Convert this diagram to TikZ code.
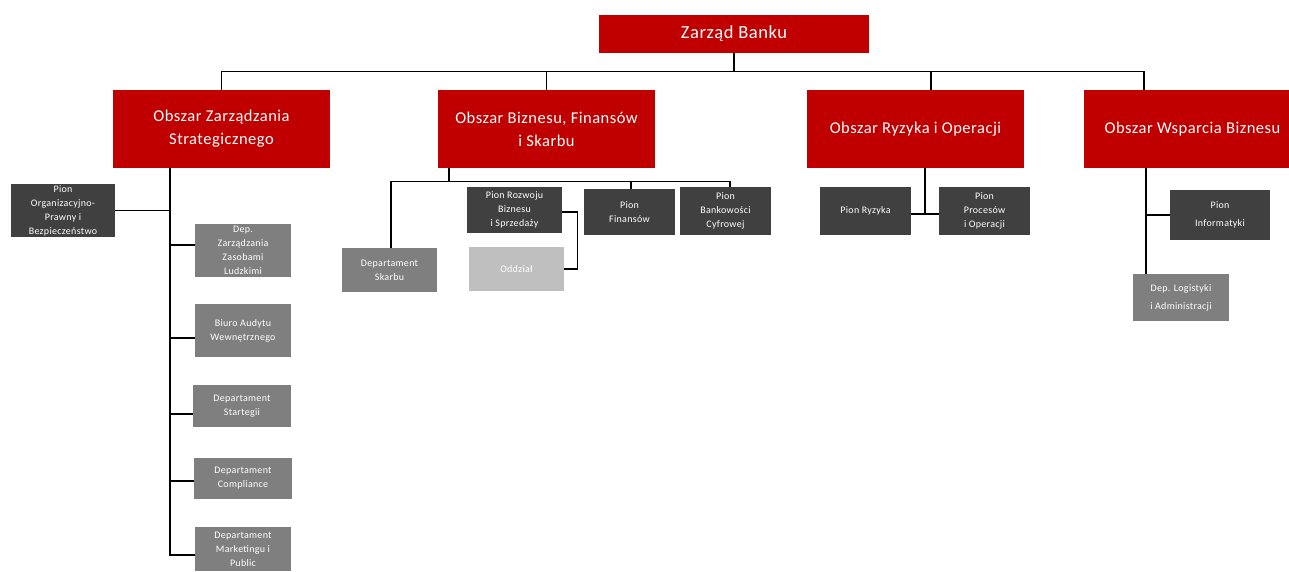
\documentclass[tikz,border=0pt]{standalone}
\usepackage{fontspec}
\setmainfont{Carlito}[LetterSpace=3]
\definecolor{cRed}{HTML}{C00000}
\definecolor{cDark}{HTML}{404040}
\definecolor{cMid}{HTML}{7F7F7F}
\definecolor{cLight}{HTML}{BFBFBF}
\tikzset{
  box/.style={inner sep=0pt, align=center, text=white, anchor=center},
  topbox/.style={box, fill=cRed, font=\fontsize{18.5}{22}\selectfont},
  areabox/.style={box, fill=cRed, minimum width=217pt, minimum height=78pt, font=\fontsize{16.5}{23}\selectfont},
  darkbox/.style={box, fill=cDark, font=\fontsize{10}{14}\selectfont},
  midbox/.style={box, fill=cMid, font=\fontsize{10}{14}\selectfont},
  lightbox/.style={box, fill=cLight, font=\fontsize{10}{14}\selectfont},
  wide/.style={font=\fontsize{10}{18}\selectfont},
  link/.style={draw=black, line width=1.2pt}
}
\begin{document}
\begin{tikzpicture}[x=1pt, y=-1pt]
\clip (0,0) rectangle (1289,571);
\fill[white] (0,0) rectangle (1289,571);

% top and areas
\node[topbox, minimum width=270pt, minimum height=38pt] (ZB) at (734,34) {Zarząd Banku};
\node[areabox] (OZS) at (221.5,129) {Obszar Zarządzania\\Strategicznego};
\node[areabox] (OBF) at (546.5,129) {Obszar Biznesu, Finansów\\i Skarbu};
\node[areabox] (ORO) at (915.5,129) {Obszar Ryzyka i Operacji};
\node[areabox] (OWB) at (1192.5,129) {Obszar Wsparcia Biznesu};

% left subtree
\node[darkbox, minimum width=104pt, minimum height=53pt] (POP) at (63,210.5) {Pion\\Organizacyjno-\\Prawny i\\Bezpieczeństwo};
\node[midbox, minimum width=96pt, minimum height=53pt] (DZL) at (243,250.5) {Dep.\\Zarządzania\\Zasobami\\Ludzkimi};
\node[midbox, minimum width=96pt, minimum height=53pt] (BAW) at (243,330.5) {Biuro Audytu\\Wewnętrznego};
\node[midbox, minimum width=98pt, minimum height=42pt] (DS) at (242,406) {Departament\\Startegii};
\node[midbox, minimum width=98pt, minimum height=41pt] (DC) at (243,478.5) {Departament\\Compliance};
\node[midbox, minimum width=96pt, minimum height=44pt] (DMP) at (243,549) {Departament\\Marketingu i\\Public};

% middle subtree
\node[midbox, minimum width=95pt, minimum height=44pt] (DSk) at (389.5,270) {Departament\\Skarbu};
\node[darkbox, minimum width=95pt, minimum height=46pt] (PRB) at (514.5,210) {Pion Rozwoju\\Biznesu\\i Sprzedaży};
\node[lightbox, minimum width=95pt, minimum height=44pt] (Odd) at (516.5,269) {Oddział};
\node[darkbox, minimum width=91pt, minimum height=46pt] (PF) at (629.5,212) {Pion\\Finansów};
\node[darkbox, minimum width=91pt, minimum height=48pt] (PBC) at (725.5,211) {Pion\\Bankowości\\Cyfrowej};

% right subtrees
\node[darkbox, minimum width=91pt, minimum height=48pt] (PR) at (865.5,211) {Pion Ryzyka};
\node[darkbox, minimum width=91pt, minimum height=48pt] (PPO) at (984.5,211) {Pion\\Procesów\\i Operacji};
\node[darkbox, wide, minimum width=100pt, minimum height=50pt] (PI) at (1220,215) {Pion\\Informatyki};
\node[midbox, wide, minimum width=96pt, minimum height=47pt] (DLA) at (1181,297.5) {Dep. Logistyki\\i Administracji};

% top connectors
\coordinate (zb) at ([yshift=-18pt]ZB.south);
\coordinate (oroT) at ([xshift=15.5pt]ORO.north);
\coordinate (owbT) at ([xshift=-48.5pt]OWB.north);
\draw[link] (ZB.south) -- (zb);
\draw[link] (OZS.north) |- (owbT |- zb) -- (owbT);
\draw[link] (OBF.north) -- (OBF.north |- zb);
\draw[link] (oroT) -- (oroT |- zb);

% left connectors
\coordinate (lv) at ([xshift=-51.5pt]OZS.south);
\coordinate (cDZL) at ([yshift=5.5pt]DZL.west);
\coordinate (cBAW) at ([yshift=-7.5pt]BAW.west);
\coordinate (cDS) at ([yshift=-8pt]DS.west);
\coordinate (cDC) at ([yshift=-2.5pt]DC.west);
\coordinate (cDMP) at ([yshift=-6pt]DMP.west);
\draw[link] (lv) -- (lv |- cDMP) -- (cDMP);
\draw[link] (POP.east) -- (POP.east -| lv);
\draw[link] (cDZL) -- (cDZL -| lv);
\draw[link] (cBAW) -- (cBAW -| lv);
\draw[link] (cDS) -- (cDS -| lv);
\draw[link] (cDC) -- (cDC -| lv);

% middle connectors
\coordinate (mv) at ([xshift=-97.5pt]OBF.south);
\coordinate (mb) at ([yshift=-13pt]mv);
\coordinate (dskT) at ([xshift=1.5pt]DSk.north);
\coordinate (pfT) at ([xshift=1.5pt]PF.north);
\coordinate (pbcT) at ([xshift=4.5pt]PBC.north);
\draw[link] (mv) -- (mb);
\draw[link] (dskT) |- (pbcT |- mb) -- (pbcT);
\draw[link] (pfT) -- (pfT |- mb);
\draw[link] ([yshift=-2pt]PRB.east) -- ++(15pt,0) |- (Odd.east);

% risk connectors
\coordinate (rv) at ([xshift=9.5pt]ORO.south);
\coordinate (cPR) at ([yshift=-3pt]PR.east);
\coordinate (cPPO) at ([yshift=-3pt]PPO.west);
\draw[link] (rv) -- ([yshift=-1pt]rv |- cPR);
\draw[link] (cPR) -- (cPPO);

% support connectors
\coordinate (wv) at ([xshift=-46.5pt]OWB.south);
\draw[link] (wv) -- (wv |- DLA.north);
\draw[link] (PI.west) -- (PI.west -| wv);
\end{tikzpicture}
\end{document}
